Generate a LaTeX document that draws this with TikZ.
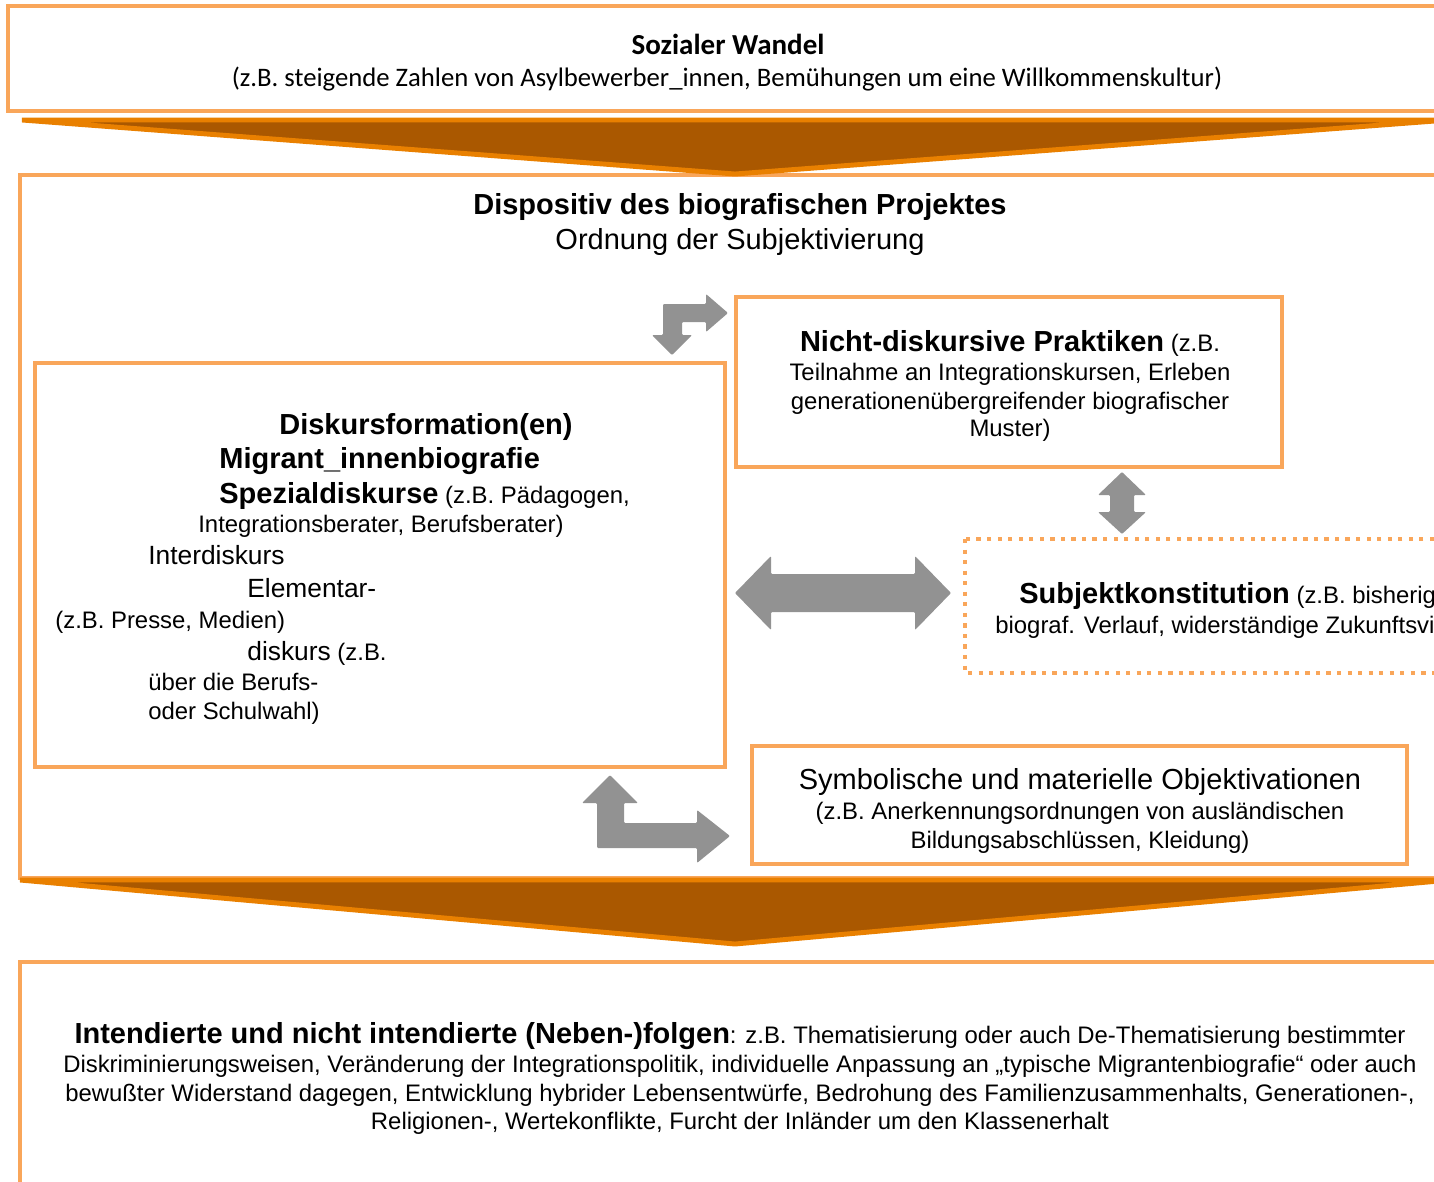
\documentclass[tikz,border=0pt]{standalone}
\usepackage{fontspec}
\setmainfont{Liberation Sans}
\newfontfamily\calibri{Carlito}
\usetikzlibrary{positioning}
\definecolor{framecol}{RGB}{249,166,90}
\definecolor{chevfill}{RGB}{170,88,0}
\definecolor{chevline}{RGB}{233,128,0}
\definecolor{arrgray}{RGB}{146,146,146}
\newcommand\fbig{\fontsize{16.5}{19}\selectfont\bfseries}
\newcommand\fmid{\fontsize{15}{18}\selectfont}
\newcommand\fsmall{\fontsize{13.6}{16}\selectfont}
\tikzset{
	frame/.style={draw=framecol, line width=2.6pt},
	dotframe/.style={draw=framecol, line width=2.4pt, dash pattern=on 2.4pt off 3.6pt},
	chevron/.style={fill=chevfill, draw=chevline, line width=2.8pt, line join=miter},
	blockarrow/.style={fill=arrgray, draw=none, rounded corners=0.6pt},
	txt/.style={inner sep=0pt, anchor=base},
	ltxt/.style={inner sep=0pt, anchor=base west},
}
\begin{document}
\begin{tikzpicture}[x=0.02cm,y=-0.02cm]
	\useasboundingbox (0,0) rectangle (1434,1181);
	\clip (0,0) rectangle (1434,1181);
	%
	% frames
	\draw[frame] (8,6) rectangle (1445,111);
	\draw[frame] (20,175) rectangle (1445,878);
	\draw[frame] (20,962) rectangle (1445,1200);
	\draw[frame] (736,297) rectangle (1282,467);
	\draw[frame] (35,363) rectangle (725,767);
	\draw[dotframe] (965,539) rectangle (1445,673);
	\draw[frame] (752,746) rectangle (1407,864);
	%
	% chevrons
	\coordinate (t0) at (22,120);
	\coordinate (t1) at (1448,120);
	\coordinate (t2) at (735,174);
	\coordinate (b0) at (20,880);
	\coordinate (b1) at (1450,880);
	\coordinate (b2) at (735,944);
	\draw[chevron] (t0) -- (t1) -- (t2) -- cycle;
	\draw[chevron] (b0) -- (b1) -- (b2) -- cycle;
	%
	% grey block arrows
	\fill[blockarrow] (663,304) -- (706,304) -- (706,294) -- (728,313) -- (706,332) -- (706,322)
		-- (682,322) -- (682,335) -- (692,335) -- (672,355) -- (652,335) -- (663,335) -- cycle;
	\fill[blockarrow] (1122,472) -- (1146,495) -- (1134,495) -- (1134,512) -- (1146,512) -- (1122,534)
		-- (1098,512) -- (1110,512) -- (1110,495) -- (1098,495) -- cycle;
	\fill[blockarrow] (735,593) -- (771,556) -- (771,574) -- (915,574) -- (915,556) -- (951,593)
		-- (915,630) -- (915,612) -- (771,612) -- (771,630) -- cycle;
	\fill[blockarrow] (610,775) -- (638,803) -- (624,803) -- (624,823) -- (697,823) -- (697,810)
		-- (730,836) -- (697,863) -- (697,848) -- (597,848) -- (597,803) -- (582,803) -- cycle;
	%
	% texts
	\node[txt, font=\calibri\bfseries\fontsize{16.5}{19}\selectfont] (wandel) at (728,54) {Sozialer Wandel};
	\node[txt, font=\calibri\fontsize{15.2}{18}\selectfont] (wandelbsp) at (727,86)
		{(z.B. steigende Zahlen von Asylbewerber\_innen, Bemühungen um eine Willkommenskultur)};
	\node[txt, font=\fbig] (dispo) at (740,214) {Dispositiv des biografischen Projektes};
	\node[txt, font=\fontsize{16.5}{19}\selectfont] (ordnung) at (740,249) {Ordnung der Subjektivierung};
	%
	\node[txt, font=\fsmall] (prakt1) at (1010,351) {{\fbig Nicht-diskursive Praktiken} (z.B.};
	\node[txt, font=\fsmall] (prakt2) at (1010,380) {Teilnahme an Integrationskursen, Erleben};
	\node[txt, font=\fsmall] (prakt3) at (1010,409) {generationenübergreifender biografischer};
	\node[txt, font=\fsmall] (prakt4) at (1010,436) {Muster)};
	%
	\node[ltxt, font=\fbig] (diskf) at (279,434) {Diskursformation(en)};
	\node[ltxt, font=\fbig] (migr) at (219,468) {Migrant\_innenbiografie};
	\node[ltxt, font=\fsmall] (spez) at (219,503) {{\fbig Spezialdiskurse} (z.B. Pädagogen,};
	\node[ltxt, font=\fsmall] (spez2) at (198,532) {Integrationsberater, Berufsberater)};
	\node[ltxt, font=\fmid] (inter) at (148,564) {Interdiskurs};
	\node[ltxt, font=\fmid] (elem) at (247,597) {Elementar-};
	\node[ltxt, font=\fsmall] (presse) at (55,628) {(z.B. Presse, Medien)};
	\node[ltxt, font=\fsmall] (elem2) at (247,660) {{\fmid diskurs} (z.B.};
	\node[ltxt, font=\fsmall] (elem3) at (148,690) {über die Berufs-};
	\node[ltxt, font=\fsmall] (elem4) at (148,719) {oder Schulwahl)};
	%
	\node[ltxt, font=\fsmall] (subj1) at (1019,603) {{\fbig Subjektkonstitution} (z.B. bisherig};
	\node[ltxt, font=\fsmall] (subj2) at (995,633) {biograf. Verlauf, widerständige Zukunftsvi};
	%
	\node[txt, font=\fontsize{16.5}{19}\selectfont] (symb1) at (1080,789) {Symbolische und materielle Objektivationen};
	\node[txt, font=\fsmall] (symb2) at (1080,819) {(z.B. Anerkennungsordnungen von ausländischen};
	\node[txt, font=\fsmall] (symb3) at (1080,848) {Bildungsabschlüssen, Kleidung)};
	%
	\node[txt, font=\fsmall] (folg1) at (740,1043) {{\fbig Intendierte und nicht intendierte (Neben-)folgen}: z.B. Thematisierung oder auch De-Thematisierung bestimmter};
	\node[txt, font=\fsmall] (folg2) at (740,1072) {Diskriminierungsweisen, Veränderung der Integrationspolitik, individuelle Anpassung an „typische Migrantenbiografie“ oder auch};
	\node[txt, font=\fsmall] (folg3) at (740,1101) {bewußter Widerstand dagegen, Entwicklung hybrider Lebensentwürfe, Bedrohung des Familienzusammenhalts, Generationen-,};
	\node[txt, font=\fsmall] (folg4) at (740,1129) {Religionen-, Wertekonflikte, Furcht der Inländer um den Klassenerhalt};
\end{tikzpicture}
\end{document}
